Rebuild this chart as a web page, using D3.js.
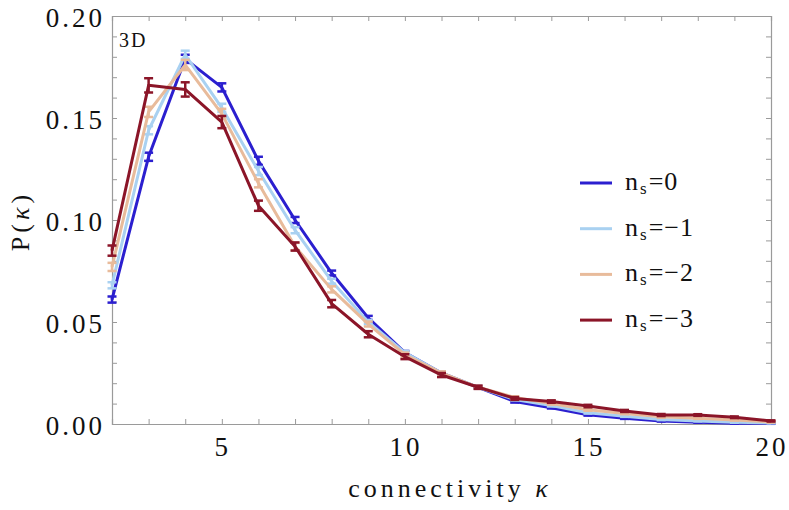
<!DOCTYPE html>
<html>
<head>
<meta charset="utf-8">
<script src="https://cdn.jsdelivr.net/npm/d3@7"></script>
<style>
  body { margin: 0; background: #fff; }
  svg text { font-family: "Liberation Serif", "Times New Roman", Times, serif; }
  .tick-label { font-size: 27px; letter-spacing: 3px; fill: #111; }
  .axis-title { font-size: 26px; letter-spacing: 4px; fill: #111; }
</style>
</head>
<body>
<svg id="chart"></svg>
<script>
var kappa = [2,3,4,5,6,7,8,9,10,11,12,13,14,15,16,17,18,19,20];

var p0 = [0.061,0.131,0.179,0.165,0.129,0.100,0.074,0.052,0.035,0.025,0.018,0.011,0.008,0.0045,0.0028,0.0015,0.0008,0.0004,0.0003];
var p1 = [0.068,0.144,0.181,0.155,0.124,0.095,0.070,0.050,0.035,0.025,0.018,0.012,0.009,0.0055,0.0038,0.0022,0.0015,0.0008,0.0005];
var p2 = [0.077,0.153,0.176,0.152,0.118,0.087,0.066,0.049,0.034,0.025,0.018,0.013,0.010,0.0070,0.0052,0.0035,0.0028,0.0020,0.0010];
var p3 = [0.085,0.166,0.164,0.148,0.107,0.087,0.059,0.044,0.033,0.024,0.018,0.0125,0.011,0.0088,0.0064,0.0044,0.0044,0.0033,0.0015];

var e0 = [0.0015,0.002,0.002,0.002,0.002,0.0015,0.0012,0.001,0.0008,0.0007,0.0006,0.0005,0.0004,0.0004,0.0003,0.0003,0.0002,0.0002,0.0002];
var e1 = [0.0015,0.002,0.002,0.002,0.002,0.0015,0.0012,0.001,0.0008,0.0007,0.0006,0.0005,0.0004,0.0004,0.0003,0.0003,0.0002,0.0002,0.0002];
var e2 = [0.002,0.0025,0.0025,0.0025,0.002,0.0018,0.0015,0.0012,0.001,0.0008,0.0007,0.0006,0.0005,0.0005,0.0004,0.0004,0.0003,0.0003,0.0003];
var e3 = [0.0025,0.0035,0.0035,0.003,0.0025,0.002,0.0018,0.0015,0.0012,0.001,0.0008,0.0007,0.0006,0.0006,0.0005,0.0005,0.0004,0.0004,0.0003];

var seriesNames = ["0", "\u22121", "\u22122", "\u22123"];
var seriesColors = ["#2b1fcf", "#a9d1f1", "#e8bb9b", "#8b1528"];
var seriesValues = [p0, p1, p2, p3];
var seriesErrors = [e0, e1, e2, e3];

var xTicks = [5, 10, 15, 20];
var yTicks = [0, 0.05, 0.10, 0.15, 0.20];

function drawChart(){
  var width = 789;
  var height = 510;

  var padding = {
    top: 16,
    bottom: 86,
    left: 112,
    right: 18
  };

  var svg = d3.select("#chart")
    .attr("width", width)
    .attr("height", height);

  var xscale = d3.scaleLinear()
    .domain([2, 20])
    .range([padding.left, width - padding.right]);

  var yscale = d3.scaleLinear()
    .domain([0, 0.2])
    .range([height - padding.bottom, padding.top]);

  var x0 = xscale.range()[0], x1 = xscale.range()[1];
  var y0 = yscale.range()[0], y1 = yscale.range()[1];

  //Frame with ticks on all four sides
  var frame = svg.append("g").attr("class", "frame");
  var frameColor = "#9a9a9a";

  var minorX = d3.range(2, 21, 1);
  var minorY = d3.range(0, 0.2001, 0.01);

  var bottomAxis = d3.axisBottom(xscale).tickValues(minorX).tickSize(-5).tickFormat("");
  var topAxis = d3.axisTop(xscale).tickValues(minorX).tickSize(-5).tickFormat("");
  var leftAxis = d3.axisLeft(yscale).tickValues(minorY).tickSize(-5).tickFormat("");
  var rightAxis = d3.axisRight(yscale).tickValues(minorY).tickSize(-5).tickFormat("");

  frame.append("g").attr("transform", "translate(0," + y0 + ")").call(bottomAxis);
  frame.append("g").attr("transform", "translate(0," + y1 + ")").call(topAxis);
  frame.append("g").attr("transform", "translate(" + x0 + ",0)").call(leftAxis);
  frame.append("g").attr("transform", "translate(" + x1 + ",0)").call(rightAxis);

  frame.selectAll("path.domain").attr("stroke", frameColor).attr("stroke-width", 1.2);
  frame.selectAll(".tick line").attr("stroke", frameColor).attr("stroke-width", 1);

  //Tick labels
  svg.append("g")
    .selectAll("text")
    .data(xTicks)
    .enter()
    .append("text")
    .attr("class", "tick-label")
    .attr("x", function(d){ return xscale(d) + 1; })
    .attr("y", y0 + 32)
    .attr("text-anchor", "middle")
    .text(function(d){ return d; });

  svg.append("g")
    .selectAll("text")
    .data(yTicks)
    .enter()
    .append("text")
    .attr("class", "tick-label")
    .attr("x", x0 - 7)
    .attr("y", function(d){ return yscale(d) + 10.5; })
    .attr("text-anchor", "end")
    .text(function(d){ return d3.format(".2f")(d); });

  //Axis titles
  svg.append("text")
    .attr("class", "axis-title")
    .attr("x", 450)
    .attr("y", 497)
    .attr("text-anchor", "middle")
    .html("connectivity <tspan font-style='italic'>\u03ba</tspan>");

  svg.append("text")
    .attr("class", "axis-title")
    .attr("letter-spacing", 2)
    .attr("transform", "translate(29," + 221 + ") rotate(-90)")
    .attr("text-anchor", "middle")
    .html("P(<tspan font-style='italic'>\u03ba</tspan>)");

  svg.append("text")
    .attr("x", 119)
    .attr("y", 47)
    .attr("font-size", 20)
    .attr("letter-spacing", 2)
    .attr("fill", "#111")
    .text("3D");

  //Data
  var line = d3.line()
    .x(function(d){ return xscale(d.k); })
    .y(function(d){ return yscale(d.p); });

  var plot = svg.append("g").attr("class", "plot");

  seriesValues.forEach(function(vals, i){
    var pts = kappa.map(function(k, j){ return { k: k, p: vals[j], e: seriesErrors[i][j] }; });
    var g = plot.append("g").attr("class", "series");

    g.append("path")
      .datum(pts)
      .attr("d", line)
      .attr("fill", "none")
      .attr("stroke", seriesColors[i])
      .attr("stroke-width", 3)
      .attr("stroke-linejoin", "round");

    var bars = g.selectAll("g.err")
      .data(pts)
      .enter()
      .append("g")
      .attr("class", "err")
      .attr("stroke", seriesColors[i])
      .attr("stroke-width", 2.5);

    bars.append("line")
      .attr("x1", function(d){ return xscale(d.k); })
      .attr("x2", function(d){ return xscale(d.k); })
      .attr("y1", function(d){ return yscale(d.p - d.e); })
      .attr("y2", function(d){ return yscale(d.p + d.e); });

    [-1, 1].forEach(function(s){
      bars.append("line")
        .attr("x1", function(d){ return xscale(d.k) - 4.5; })
        .attr("x2", function(d){ return xscale(d.k) + 4.5; })
        .attr("y1", function(d){ return yscale(d.p + s * d.e); })
        .attr("y2", function(d){ return yscale(d.p + s * d.e); });
    });
  });

  //Legend
  var legend = svg.append("g")
    .attr("class", "legend")
    .attr("transform", "translate(580,183)");

  var items = legend.selectAll("g")
    .data(seriesNames)
    .enter()
    .append("g")
    .attr("transform", function(d, i){ return "translate(0," + (i * 45.7) + ")"; });

  items.append("line")
    .attr("x1", 0)
    .attr("x2", 32)
    .attr("stroke", function(d, i){ return seriesColors[i]; })
    .attr("stroke-width", 3);

  var label = items.append("text")
    .attr("x", 45)
    .attr("y", 7)
    .attr("font-size", 26)
    .attr("fill", "#111");

  label.append("tspan").text("n");
  label.append("tspan").attr("font-size", 17).attr("dy", 4).attr("dx", 2).text("s");
  label.append("tspan").attr("dy", -4).attr("dx", 2).attr("letter-spacing", 1).text(function(d){ return "=" + d; });
}

drawChart();
</script>
</body>
</html>
